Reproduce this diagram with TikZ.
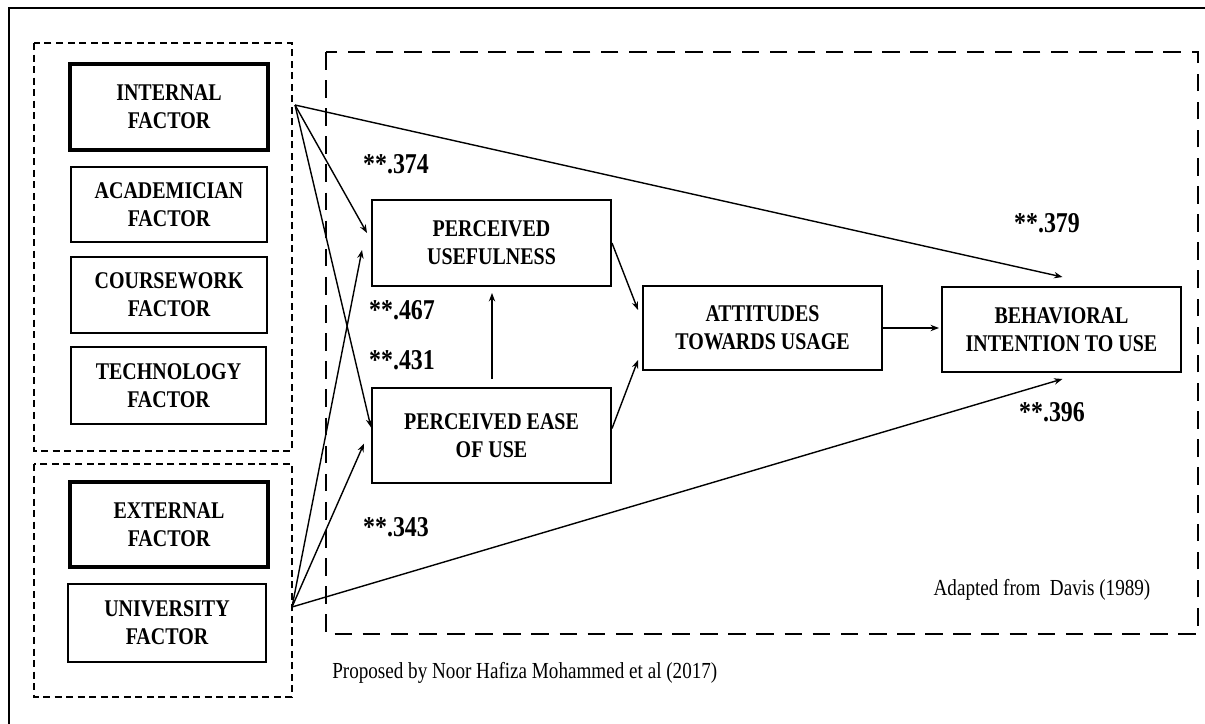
\documentclass[tikz,border=0pt]{standalone}
\usepackage{fontspec}
\usepackage{graphicx}
\setmainfont{Liberation Serif}
\usetikzlibrary{calc,arrows.meta}
\newlength\pxl
\setlength\pxl{0.025cm}
\newcommand\vs[1]{\scalebox{1}[1.2]{#1}}
\newcommand\bxfont{\bfseries\fontsize{14.2pt}{19.9pt}\selectfont}
\newcommand\lbfont{\bfseries\fontsize{17pt}{20pt}\selectfont}
\newcommand\cpfont{\fontsize{13.6pt}{16pt}\selectfont}
\tikzset{
  box/.style={draw, line width=1.4pt, inner sep=0pt, align=center, font=\bxfont},
  thickbox/.style={box, line width=3.4pt},
  grpbox/.style={draw, line width=1.6pt, dash pattern=on 5pt off 3.2pt},
  modelbox/.style={draw, line width=1.4pt, dash pattern=on 12.5pt off 7.5pt},
  conn/.style={line width=1pt, -{Stealth[length=6pt,width=4.5pt]}},
  lbl/.style={font=\lbfont, inner sep=0pt},
  captxt/.style={font=\cpfont, inner sep=0pt}
}
\begin{document}
\begin{tikzpicture}[x=0.025cm, y=-0.025cm]
\useasboundingbox (0,0) rectangle (1205,724);
% outer frame
\draw[line width=1.1pt] (1205,8) -- (9,8) -- (9,724);
% group boxes
\draw[grpbox] (34,43) rectangle (292,451);
\draw[grpbox] (34,464) rectangle (292,697);
\draw[modelbox] (326,52) rectangle (1198,634);
% factor boxes
\node[thickbox, minimum width=198\pxl, minimum height=86\pxl] (int) at (169,107) {\vs{INTERNAL}\\\vs{FACTOR}};
\node[box, minimum width=196\pxl, minimum height=75\pxl] (aca) at (169,204.5) {\vs{ACADEMICIAN}\\\vs{FACTOR}};
\node[box, minimum width=196\pxl, minimum height=76\pxl] (cou) at (169,295) {\vs{COURSEWORK}\\\vs{FACTOR}};
\node[box, minimum width=195\pxl, minimum height=77\pxl] (tec) at (168.5,385.5) {\vs{TECHNOLOGY}\\\vs{FACTOR}};
\node[thickbox, minimum width=198\pxl, minimum height=85\pxl] (ext) at (169,524.5) {\vs{EXTERNAL}\\\vs{FACTOR}};
\node[box, minimum width=198\pxl, minimum height=78\pxl] (uni) at (167,623) {\vs{UNIVERSITY}\\\vs{FACTOR}};
% TAM boxes
\node[box, minimum width=239\pxl, minimum height=86\pxl] (pu) at (491.5,243) {\vs{PERCEIVED}\\\vs{USEFULNESS}};
\node[box, minimum width=239\pxl, minimum height=95\pxl] (peou) at (491.5,435.5) {\vs{PERCEIVED EASE}\\\vs{OF USE}};
\node[box, minimum width=239\pxl, minimum height=84\pxl] (atu) at (762.5,328) {\vs{ATTITUDES}\\\vs{TOWARDS USAGE}};
\node[box, minimum width=239\pxl, minimum height=85\pxl] (bi) at (1061.5,329.5) {\vs{BEHAVIORAL}\\\vs{INTENTION TO USE}};
% source points
\coordinate (srcI) at (295,105);
\coordinate (srcU) at (292,607);
% connectors
\draw[conn] (srcI) -- ($(pu.west)+(-4,-10)$);
\draw[conn] (srcI) -- ($(peou.west)+(0,-8)$);
\draw[conn] (srcI) -- ($(bi.north)+(1,-9)$);
\draw[conn] (srcU) -- ($(pu.west)+(-9,7)$);
\draw[conn] (srcU) -- ($(peou.west)+(-7,8)$);
\draw[conn] (srcU) -- ($(bi.south)+(1,6)$);
\draw[conn] ($(peou.north)+(0.5,-8)$) -- ($(pu.south)+(0.5,6)$);
\draw[conn] (pu.east) -- ($(atu.west)+(-4,-18)$);
\draw[conn] ($(peou.east)+(0,-7)$) -- ($(atu.west)+(-4,32)$);
\draw[conn] (atu.east) -- ($(atu.east -| bi.west)+(-2,0)$);
% labels
\node[lbl] (l374) at (396,164) {\vs{**.374}};
\node[lbl] (l467) at (402,310) {\vs{**.467}};
\node[lbl] (l431) at (402,360) {\vs{**.431}};
\node[lbl] (l343) at (396,527) {\vs{**.343}};
\node[lbl] (l379) at (1047,223) {\vs{**.379}};
\node[lbl] (l396) at (1052,412) {\vs{**.396}};
% captions
\node[captxt] (davis) at (1042,590) {\vs{Adapted from\ \ Davis (1989)}};
\node[captxt, anchor=west] (noor) at (332,673) {\vs{Proposed by Noor Hafiza Mohammed et al (2017)}};
\end{tikzpicture}
\end{document}
